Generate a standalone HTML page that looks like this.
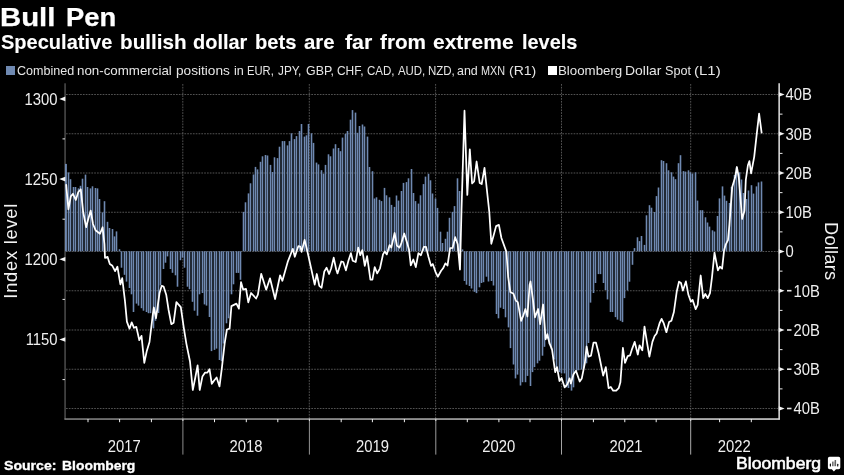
<!DOCTYPE html>
<html><head><meta charset="utf-8"><title>Bull Pen</title>
<style>
html,body{margin:0;padding:0;background:#000;overflow:hidden;}
html{width:844px;height:475px;}
body{width:844px;height:475px;overflow:hidden;position:relative;font-family:"Liberation Sans",sans-serif;color:#fff;}
.w{position:absolute;white-space:nowrap;line-height:20px;transform-origin:0 0;}
.sq{position:absolute;top:66px;width:8.6px;height:8.5px;}
svg{position:absolute;left:0;top:0;}
.ax{font-family:"Liberation Sans",sans-serif;font-size:16.4px;fill:#efefef;}
.yl{font-family:"Liberation Sans",sans-serif;font-size:18.3px;fill:#f2f2f2;}
#wrap{position:absolute;left:0;top:0;width:844px;height:475px;will-change:transform;overflow:hidden;}
</style></head><body><div id="wrap">
<svg width="844" height="475" viewBox="0 0 844 475">
<g stroke="#6e6e6e" stroke-width="0.75" stroke-dasharray="1.7,1.12" fill="none"><line x1="66" x2="778" y1="94.5" y2="94.5"/><line x1="66" x2="778" y1="133.75" y2="133.75"/><line x1="66" x2="778" y1="173.0" y2="173.0"/><line x1="66" x2="778" y1="212.25" y2="212.25"/><line x1="66" x2="778" y1="251.5" y2="251.5"/><line x1="66" x2="778" y1="290.75" y2="290.75"/><line x1="66" x2="778" y1="330.0" y2="330.0"/><line x1="66" x2="778" y1="369.25" y2="369.25"/><line x1="66" x2="778" y1="408.5" y2="408.5"/><line y1="84" y2="418" x1="182.8" x2="182.8"/><line y1="84" y2="418" x1="309.3" x2="309.3"/><line y1="84" y2="418" x1="435.6" x2="435.6"/><line y1="84" y2="418" x1="561.5" x2="561.5"/><line y1="84" y2="418" x1="690.7" x2="690.7"/></g>
<line x1="65.05" x2="65.05" y1="83.3" y2="419.5" stroke="#747474" stroke-width="1"/>
<g fill="#6f89b1" shape-rendering="auto"><rect x="65" y="163.9" width="1.9" height="87.4"/><rect x="67.70" y="172.4" width="1.6" height="78.9"/><rect x="69.70" y="179.2" width="1.6" height="72.1"/><rect x="72.70" y="187.0" width="1.6" height="64.3"/><rect x="74.70" y="187.0" width="1.6" height="64.3"/><rect x="77.70" y="188.4" width="1.6" height="62.9"/><rect x="79.70" y="185.8" width="1.6" height="65.5"/><rect x="81.70" y="178.7" width="1.6" height="72.6"/><rect x="84.70" y="174.6" width="1.6" height="76.7"/><rect x="86.70" y="187.0" width="1.6" height="64.3"/><rect x="89.70" y="188.4" width="1.6" height="62.9"/><rect x="91.70" y="186.3" width="1.6" height="65.0"/><rect x="94.70" y="188.0" width="1.6" height="63.3"/><rect x="96.70" y="188.4" width="1.6" height="62.9"/><rect x="98.70" y="199.0" width="1.6" height="52.3"/><rect x="101.70" y="212.4" width="1.6" height="38.9"/><rect x="103.70" y="201.2" width="1.6" height="50.1"/><rect x="106.70" y="221.8" width="1.6" height="29.5"/><rect x="108.70" y="228.0" width="1.6" height="23.3"/><rect x="111.70" y="229.0" width="1.6" height="22.3"/><rect x="113.70" y="236.4" width="1.6" height="14.9"/><rect x="115.70" y="231.4" width="1.6" height="19.9"/><rect x="118.70" y="249.2" width="1.6" height="2.1"/><rect x="120.70" y="251.3" width="1.6" height="16.4"/><rect x="123.70" y="251.3" width="1.6" height="23.5"/><rect x="125.70" y="251.3" width="1.6" height="30.3"/><rect x="128.70" y="251.3" width="1.6" height="36.7"/><rect x="130.70" y="251.3" width="1.6" height="43.0"/><rect x="132.70" y="251.3" width="1.6" height="60.7"/><rect x="135.70" y="251.3" width="1.6" height="52.3"/><rect x="137.70" y="251.3" width="1.6" height="54.3"/><rect x="140.70" y="251.3" width="1.6" height="56.9"/><rect x="142.70" y="251.3" width="1.6" height="59.4"/><rect x="145.70" y="251.3" width="1.6" height="60.7"/><rect x="147.70" y="251.3" width="1.6" height="61.9"/><rect x="149.70" y="251.3" width="1.6" height="61.9"/><rect x="152.70" y="251.3" width="1.6" height="77.1"/><rect x="154.70" y="251.3" width="1.6" height="69.5"/><rect x="157.70" y="251.3" width="1.6" height="61.7"/><rect x="159.70" y="251.3" width="1.6" height="34.1"/><rect x="162.70" y="251.3" width="1.6" height="17.7"/><rect x="164.70" y="251.3" width="1.6" height="11.4"/><rect x="166.70" y="251.3" width="1.6" height="5.1"/><rect x="169.70" y="251.3" width="1.6" height="17.7"/><rect x="171.70" y="251.3" width="1.6" height="21.5"/><rect x="174.70" y="251.3" width="1.6" height="24.0"/><rect x="176.70" y="251.3" width="1.6" height="35.4"/><rect x="179.70" y="251.3" width="1.6" height="8.9"/><rect x="181.70" y="251.3" width="1.6" height="6.3"/><rect x="183.70" y="251.3" width="1.6" height="16.4"/><rect x="186.70" y="251.3" width="1.6" height="35.4"/><rect x="188.70" y="251.3" width="1.6" height="37.9"/><rect x="191.70" y="251.3" width="1.6" height="50.5"/><rect x="193.70" y="251.3" width="1.6" height="59.4"/><rect x="196.70" y="251.3" width="1.6" height="64.4"/><rect x="198.70" y="251.3" width="1.6" height="43.0"/><rect x="201.70" y="251.3" width="1.6" height="41.7"/><rect x="203.70" y="251.3" width="1.6" height="53.1"/><rect x="205.70" y="251.3" width="1.6" height="54.3"/><rect x="208.70" y="251.3" width="1.6" height="65.7"/><rect x="210.70" y="251.3" width="1.6" height="99.8"/><rect x="213.70" y="251.3" width="1.6" height="98.6"/><rect x="215.70" y="251.3" width="1.6" height="97.3"/><rect x="218.70" y="251.3" width="1.6" height="108.7"/><rect x="220.70" y="251.3" width="1.6" height="109.9"/><rect x="222.70" y="251.3" width="1.6" height="92.2"/><rect x="225.70" y="251.3" width="1.6" height="72.0"/><rect x="227.70" y="251.3" width="1.6" height="67.0"/><rect x="230.70" y="251.3" width="1.6" height="43.0"/><rect x="232.70" y="251.3" width="1.6" height="33.0"/><rect x="235.70" y="251.3" width="1.6" height="21.6"/><rect x="237.70" y="251.3" width="1.6" height="21.6"/><rect x="239.70" y="251.3" width="1.6" height="28.5"/><rect x="242.70" y="211.9" width="1.6" height="39.4"/><rect x="244.70" y="202.3" width="1.6" height="49.0"/><rect x="247.70" y="193.4" width="1.6" height="57.9"/><rect x="249.70" y="183.3" width="1.6" height="68.0"/><rect x="252.70" y="174.5" width="1.6" height="76.8"/><rect x="254.70" y="166.9" width="1.6" height="84.4"/><rect x="256.70" y="169.4" width="1.6" height="81.9"/><rect x="259.70" y="161.8" width="1.6" height="89.5"/><rect x="261.70" y="156.3" width="1.6" height="95.0"/><rect x="264.70" y="155.0" width="1.6" height="96.3"/><rect x="266.70" y="155.5" width="1.6" height="95.8"/><rect x="269.70" y="164.9" width="1.6" height="86.4"/><rect x="271.70" y="172.0" width="1.6" height="79.3"/><rect x="273.70" y="157.3" width="1.6" height="94.0"/><rect x="276.70" y="158.1" width="1.6" height="93.2"/><rect x="278.70" y="146.7" width="1.6" height="104.6"/><rect x="281.70" y="141.1" width="1.6" height="110.2"/><rect x="283.70" y="141.1" width="1.6" height="110.2"/><rect x="286.70" y="145.4" width="1.6" height="105.9"/><rect x="288.70" y="141.1" width="1.6" height="110.2"/><rect x="290.70" y="133.3" width="1.6" height="118.0"/><rect x="293.70" y="139.1" width="1.6" height="112.2"/><rect x="295.70" y="136.1" width="1.6" height="115.2"/><rect x="298.70" y="131.0" width="1.6" height="120.3"/><rect x="300.70" y="124.0" width="1.6" height="127.3"/><rect x="303.70" y="136.6" width="1.6" height="114.7"/><rect x="305.70" y="135.3" width="1.6" height="116.0"/><rect x="307.70" y="124.0" width="1.6" height="127.3"/><rect x="310.70" y="133.3" width="1.6" height="118.0"/><rect x="312.70" y="142.9" width="1.6" height="108.4"/><rect x="315.70" y="162.6" width="1.6" height="88.7"/><rect x="317.70" y="164.4" width="1.6" height="86.9"/><rect x="320.70" y="170.2" width="1.6" height="81.1"/><rect x="322.70" y="173.7" width="1.6" height="77.6"/><rect x="324.70" y="164.9" width="1.6" height="86.4"/><rect x="327.70" y="154.3" width="1.6" height="97.0"/><rect x="329.70" y="156.3" width="1.6" height="95.0"/><rect x="332.70" y="148.5" width="1.6" height="102.8"/><rect x="334.70" y="144.2" width="1.6" height="107.1"/><rect x="337.70" y="148.0" width="1.6" height="103.3"/><rect x="339.70" y="151.2" width="1.6" height="100.1"/><rect x="341.70" y="137.6" width="1.6" height="113.7"/><rect x="344.70" y="133.8" width="1.6" height="117.5"/><rect x="346.70" y="131.0" width="1.6" height="120.3"/><rect x="349.70" y="119.7" width="1.6" height="131.6"/><rect x="351.70" y="110.1" width="1.6" height="141.2"/><rect x="354.70" y="112.6" width="1.6" height="138.7"/><rect x="356.70" y="132.8" width="1.6" height="118.5"/><rect x="358.70" y="126.0" width="1.6" height="125.3"/><rect x="361.70" y="124.5" width="1.6" height="126.8"/><rect x="363.70" y="126.5" width="1.6" height="124.8"/><rect x="366.70" y="136.6" width="1.6" height="114.7"/><rect x="368.70" y="167.0" width="1.6" height="84.3"/><rect x="371.70" y="171.2" width="1.6" height="80.1"/><rect x="373.70" y="198.5" width="1.6" height="52.8"/><rect x="375.70" y="197.3" width="1.6" height="54.0"/><rect x="378.70" y="199.8" width="1.6" height="51.5"/><rect x="380.70" y="201.1" width="1.6" height="50.2"/><rect x="383.70" y="187.9" width="1.6" height="63.4"/><rect x="385.70" y="195.3" width="1.6" height="56.0"/><rect x="388.70" y="197.3" width="1.6" height="54.0"/><rect x="390.70" y="204.9" width="1.6" height="46.4"/><rect x="393.70" y="206.9" width="1.6" height="44.4"/><rect x="395.70" y="195.5" width="1.6" height="55.8"/><rect x="397.70" y="200.6" width="1.6" height="50.7"/><rect x="400.70" y="191.0" width="1.6" height="60.3"/><rect x="402.70" y="182.9" width="1.6" height="68.4"/><rect x="405.70" y="182.1" width="1.6" height="69.2"/><rect x="407.70" y="178.3" width="1.6" height="73.0"/><rect x="410.70" y="169.0" width="1.6" height="82.3"/><rect x="412.70" y="193.0" width="1.6" height="58.3"/><rect x="414.70" y="201.1" width="1.6" height="50.2"/><rect x="417.70" y="203.6" width="1.6" height="47.7"/><rect x="419.70" y="195.3" width="1.6" height="56.0"/><rect x="422.70" y="184.1" width="1.6" height="67.2"/><rect x="424.70" y="176.6" width="1.6" height="74.7"/><rect x="427.70" y="173.8" width="1.6" height="77.5"/><rect x="429.70" y="180.3" width="1.6" height="71.0"/><rect x="431.70" y="193.5" width="1.6" height="57.8"/><rect x="434.70" y="198.5" width="1.6" height="52.8"/><rect x="436.70" y="207.9" width="1.6" height="43.4"/><rect x="439.70" y="231.7" width="1.6" height="19.6"/><rect x="441.70" y="243.0" width="1.6" height="8.3"/><rect x="444.70" y="238.8" width="1.6" height="12.5"/><rect x="446.70" y="231.7" width="1.6" height="19.6"/><rect x="448.70" y="217.8" width="1.6" height="33.5"/><rect x="451.70" y="211.9" width="1.6" height="39.4"/><rect x="453.70" y="206.1" width="1.6" height="45.2"/><rect x="456.70" y="178.3" width="1.6" height="73.0"/><rect x="458.70" y="191.0" width="1.6" height="60.3"/><rect x="461.70" y="249.4" width="1.6" height="1.9"/><rect x="463.70" y="251.3" width="1.6" height="29.7"/><rect x="465.70" y="251.3" width="1.6" height="33.4"/><rect x="468.70" y="251.3" width="1.6" height="34.7"/><rect x="470.70" y="251.3" width="1.6" height="37.2"/><rect x="473.70" y="251.3" width="1.6" height="40.5"/><rect x="475.70" y="251.3" width="1.6" height="41.8"/><rect x="478.70" y="251.3" width="1.6" height="36.0"/><rect x="480.70" y="251.3" width="1.6" height="31.7"/><rect x="482.70" y="251.3" width="1.6" height="30.9"/><rect x="485.70" y="251.3" width="1.6" height="25.4"/><rect x="487.70" y="251.3" width="1.6" height="30.2"/><rect x="490.70" y="251.3" width="1.6" height="29.7"/><rect x="492.70" y="251.3" width="1.6" height="34.2"/><rect x="495.70" y="251.3" width="1.6" height="62.7"/><rect x="497.70" y="251.3" width="1.6" height="67.0"/><rect x="499.70" y="251.3" width="1.6" height="56.4"/><rect x="502.70" y="251.3" width="1.6" height="57.7"/><rect x="504.70" y="251.3" width="1.6" height="66.0"/><rect x="507.70" y="251.3" width="1.6" height="76.1"/><rect x="509.70" y="251.3" width="1.6" height="96.8"/><rect x="512.70" y="251.3" width="1.6" height="113.2"/><rect x="514.70" y="251.3" width="1.6" height="127.1"/><rect x="516.70" y="251.3" width="1.6" height="123.3"/><rect x="519.70" y="251.3" width="1.6" height="134.2"/><rect x="521.70" y="251.3" width="1.6" height="130.9"/><rect x="524.70" y="251.3" width="1.6" height="130.9"/><rect x="526.70" y="251.3" width="1.6" height="124.6"/><rect x="529.70" y="251.3" width="1.6" height="134.7"/><rect x="531.70" y="251.3" width="1.6" height="120.8"/><rect x="533.70" y="251.3" width="1.6" height="115.8"/><rect x="536.70" y="251.3" width="1.6" height="112.0"/><rect x="538.70" y="251.3" width="1.6" height="109.4"/><rect x="541.70" y="251.3" width="1.6" height="104.4"/><rect x="543.70" y="251.3" width="1.6" height="95.5"/><rect x="546.70" y="251.3" width="1.6" height="88.0"/><rect x="548.70" y="251.3" width="1.6" height="93.0"/><rect x="550.70" y="251.3" width="1.6" height="98.1"/><rect x="553.70" y="251.3" width="1.6" height="108.2"/><rect x="555.70" y="251.3" width="1.6" height="115.8"/><rect x="558.70" y="251.3" width="1.6" height="120.8"/><rect x="560.70" y="251.3" width="1.6" height="122.1"/><rect x="563.70" y="251.3" width="1.6" height="122.1"/><rect x="565.70" y="251.3" width="1.6" height="136.0"/><rect x="567.70" y="251.3" width="1.6" height="136.7"/><rect x="570.70" y="251.3" width="1.6" height="139.3"/><rect x="572.70" y="251.3" width="1.6" height="136.0"/><rect x="575.70" y="251.3" width="1.6" height="119.5"/><rect x="577.70" y="251.3" width="1.6" height="119.0"/><rect x="580.70" y="251.3" width="1.6" height="118.3"/><rect x="582.70" y="251.3" width="1.6" height="117.0"/><rect x="585.70" y="251.3" width="1.6" height="112.0"/><rect x="587.70" y="251.3" width="1.6" height="91.7"/><rect x="589.70" y="251.3" width="1.6" height="51.3"/><rect x="592.70" y="251.3" width="1.6" height="41.7"/><rect x="594.70" y="251.3" width="1.6" height="31.7"/><rect x="597.70" y="251.3" width="1.6" height="22.8"/><rect x="599.70" y="251.3" width="1.6" height="22.8"/><rect x="602.70" y="251.3" width="1.6" height="31.7"/><rect x="604.70" y="251.3" width="1.6" height="38.7"/><rect x="606.70" y="251.3" width="1.6" height="48.1"/><rect x="609.70" y="251.3" width="1.6" height="60.7"/><rect x="611.70" y="251.3" width="1.6" height="60.7"/><rect x="614.70" y="251.3" width="1.6" height="65.8"/><rect x="616.70" y="251.3" width="1.6" height="68.3"/><rect x="619.70" y="251.3" width="1.6" height="69.5"/><rect x="621.70" y="251.3" width="1.6" height="70.8"/><rect x="623.70" y="251.3" width="1.6" height="46.8"/><rect x="626.70" y="251.3" width="1.6" height="39.2"/><rect x="628.70" y="251.3" width="1.6" height="30.4"/><rect x="631.70" y="251.3" width="1.6" height="13.5"/><rect x="633.70" y="248.1" width="1.6" height="3.2"/><rect x="636.70" y="237.3" width="1.6" height="14.0"/><rect x="638.70" y="241.1" width="1.6" height="10.2"/><rect x="640.70" y="236.0" width="1.6" height="15.3"/><rect x="643.70" y="244.9" width="1.6" height="6.4"/><rect x="645.70" y="215.3" width="1.6" height="36.0"/><rect x="648.70" y="205.2" width="1.6" height="46.1"/><rect x="650.70" y="207.7" width="1.6" height="43.6"/><rect x="653.70" y="212.0" width="1.6" height="39.3"/><rect x="655.70" y="196.1" width="1.6" height="55.2"/><rect x="657.70" y="187.5" width="1.6" height="63.8"/><rect x="660.70" y="160.2" width="1.6" height="91.1"/><rect x="662.70" y="161.0" width="1.6" height="90.3"/><rect x="665.70" y="163.2" width="1.6" height="88.1"/><rect x="667.70" y="170.3" width="1.6" height="81.0"/><rect x="670.70" y="172.3" width="1.6" height="79.0"/><rect x="672.70" y="176.6" width="1.6" height="74.7"/><rect x="674.70" y="179.2" width="1.6" height="72.1"/><rect x="677.70" y="163.2" width="1.6" height="88.1"/><rect x="679.70" y="155.2" width="1.6" height="96.1"/><rect x="682.70" y="171.1" width="1.6" height="80.2"/><rect x="684.70" y="171.6" width="1.6" height="79.7"/><rect x="687.70" y="170.3" width="1.6" height="81.0"/><rect x="689.70" y="172.3" width="1.6" height="79.0"/><rect x="691.70" y="173.6" width="1.6" height="77.7"/><rect x="694.70" y="172.3" width="1.6" height="79.0"/><rect x="696.70" y="200.6" width="1.6" height="50.7"/><rect x="699.70" y="210.2" width="1.6" height="41.1"/><rect x="701.70" y="210.2" width="1.6" height="41.1"/><rect x="704.70" y="217.3" width="1.6" height="34.0"/><rect x="706.70" y="222.5" width="1.6" height="28.8"/><rect x="708.70" y="226.6" width="1.6" height="24.7"/><rect x="711.70" y="230.3" width="1.6" height="21.0"/><rect x="713.70" y="231.5" width="1.6" height="19.8"/><rect x="716.70" y="216.0" width="1.6" height="35.3"/><rect x="718.70" y="198.4" width="1.6" height="52.9"/><rect x="721.70" y="186.4" width="1.6" height="64.9"/><rect x="723.70" y="195.6" width="1.6" height="55.7"/><rect x="725.70" y="200.8" width="1.6" height="50.5"/><rect x="728.70" y="203.0" width="1.6" height="48.3"/><rect x="730.70" y="186.9" width="1.6" height="64.4"/><rect x="733.70" y="175.0" width="1.6" height="76.3"/><rect x="735.70" y="167.5" width="1.6" height="83.8"/><rect x="738.70" y="172.3" width="1.6" height="79.0"/><rect x="740.70" y="179.5" width="1.6" height="71.8"/><rect x="742.70" y="193.0" width="1.6" height="58.3"/><rect x="745.70" y="199.0" width="1.6" height="52.3"/><rect x="747.70" y="190.5" width="1.6" height="60.8"/><rect x="750.70" y="185.2" width="1.6" height="66.1"/><rect x="752.70" y="193.6" width="1.6" height="57.7"/><rect x="755.70" y="186.4" width="1.6" height="64.9"/><rect x="757.70" y="182.4" width="1.6" height="68.9"/><rect x="760.70" y="181.5" width="1.6" height="69.8"/></g>
<polyline points="66.2,184.9 68.4,209.4 70.8,196.4 73.0,193.8 75.8,200.0 78.3,192.0 80.8,189.3 83.1,211.5 86.1,227.2 88.4,218.6 90.7,210.6 93.0,224.0 95.5,230.2 100.0,233.7 102.6,227.2 104.4,244.0 105.0,257.8 107.6,256.9 109.8,264.0 112.4,265.8 115.1,271.1 117.4,266.7 120.4,284.4 122.2,278.2 124.9,300.4 126.9,321.6 129.5,328.7 131.7,322.4 134.0,327.8 136.3,326.9 139.3,340.2 141.5,335.8 144.3,362.8 146.8,350.9 149.5,342.0 152.7,315.3 153.8,307.5 156.0,318.2 159.5,293.3 161.7,285.8 163.6,286.6 166.3,295.1 168.6,310.0 171.3,324.2 173.6,322.8 176.4,302.2 180.8,307.2 183.8,327.8 186.4,343.8 190.0,361.5 192.8,390.0 195.3,377.5 197.6,365.4 199.7,390.0 202.4,376.6 205.1,372.6 207.4,372.6 209.5,369.2 211.8,383.8 214.3,380.2 216.6,377.5 219.5,386.4 222.0,366.9 224.6,343.8 226.9,329.5 229.6,328.7 231.4,306.1 236.4,303.6 238.9,308.6 241.0,282.1 243.2,289.7 246.0,288.9 248.3,302.3 251.1,293.0 256.1,298.5 257.9,294.7 261.2,273.8 266.2,289.7 270.0,278.3 275.1,299.0 280.1,275.3 282.4,280.8 287.7,261.9 292.8,248.8 294.8,256.8 298.3,246.2 300.3,246.7 301.6,251.8 304.6,239.9 307.2,250.5 311.0,267.7 314.7,284.6 316.8,274.0 319.3,285.9 321.6,287.7 324.3,271.5 326.6,267.7 329.1,274.0 331.2,268.2 333.7,257.6 336.2,269.5 337.5,273.4 341.3,261.5 343.3,262.0 345.9,270.3 348.4,260.7 350.9,253.2 352.7,260.7 355.7,262.0 358.2,247.6 360.3,255.2 362.3,250.1 364.8,265.8 367.1,256.2 370.4,279.7 372.4,279.7 374.7,267.1 377.2,273.4 380.0,268.3 383.0,254.4 384.8,251.4 386.8,254.4 389.6,245.1 391.3,247.6 394.6,233.0 396.9,245.6 399.4,247.6 401.4,243.1 404.2,233.5 407.0,242.6 409.0,249.4 410.8,265.3 413.3,259.5 415.8,267.1 418.4,253.2 420.9,255.2 423.9,246.8 426.0,246.8 428.5,257.0 431.0,265.8 432.8,264.0 435.6,272.1 437.8,276.7 441.1,270.8 443.1,268.3 445.4,263.3 447.5,265.5 450.1,248.1 452.6,248.0 455.2,237.2 457.7,244.3 460.0,269.6 461.5,210.0 464.5,110.7 467.3,194.9 469.8,149.4 472.1,183.5 474.1,181.5 476.6,161.5 479.7,183.0 481.7,184.0 484.5,167.8 489.3,212.0 491.3,243.8 493.6,235.5 496.1,226.1 498.9,224.9 501.4,238.0 506.4,251.9 508.2,277.2 510.3,292.0 513.5,293.8 515.8,300.6 517.8,302.1 521.1,320.8 523.4,315.3 525.4,309.0 527.4,316.5 529.6,285.0 530.5,281.5 533.0,300.1 535.0,317.3 538.1,309.0 540.1,324.1 543.1,304.5 545.6,339.3 547.4,334.2 549.4,343.1 552.0,349.4 555.2,372.1 557.0,367.1 559.5,381.0 561.6,377.9 564.6,387.3 567.1,384.7 569.6,378.4 570.9,383.5 573.4,374.6 576.0,370.8 579.7,381.5 581.8,378.4 584.8,363.3 586.6,346.5 588.5,356.6 591.0,355.6 593.5,342.7 596.0,342.7 598.6,353.0 603.2,375.6 605.8,367.2 608.6,388.2 610.8,387.0 613.2,390.7 616.2,390.7 618.7,388.2 620.4,382.3 622.9,347.8 625.0,362.9 627.7,356.2 630.0,355.4 632.2,348.6 634.7,341.9 637.8,354.5 639.5,345.3 642.3,350.3 644.5,326.7 646.5,339.4 649.4,356.7 652.4,341.9 654.6,336.0 656.6,333.5 659.5,323.4 661.6,318.8 663.8,323.4 666.4,332.2 669.1,322.1 671.4,320.8 673.9,312.0 676.7,291.8 679.0,281.7 681.0,283.0 682.9,290.6 685.9,281.4 688.4,294.8 690.9,301.6 692.6,299.9 695.7,309.2 697.7,304.9 700.7,275.5 703.2,298.2 705.3,294.0 707.8,298.2 710.0,293.2 712.0,277.2 714.5,252.7 717.9,270.4 719.9,266.7 722.1,268.7 724.1,250.2 725.8,244.3 728.0,240.1 729.4,224.9 732.2,187.1 735.1,177.6 736.9,167.0 738.8,177.6 740.4,197.5 742.1,218.9 744.5,210.7 745.8,180.0 747.9,165.3 749.4,161.1 751.1,173.3 754.2,156.8 756.9,132.6 759.1,113.7 761.6,132.6" fill="none" stroke="#ffffff" stroke-width="1.75" stroke-linejoin="round" stroke-linecap="round"/>
<line x1="779.15" x2="779.15" y1="83.3" y2="419.6" stroke="#dcdcdc" stroke-width="1.55"/>
<defs><linearGradient id="axg" gradientUnits="userSpaceOnUse" x1="65" y1="0" x2="779" y2="0"><stop offset="0" stop-color="#808080"/><stop offset="1" stop-color="#d8d8d8"/></linearGradient></defs>
<rect x="64.5" y="418.28" width="715.4" height="1.55" fill="url(#axg)"/>
<path d="M65.3,96.60000000000001 L59.3,98.9 L65.3,101.2 Z" fill="#f4f4f4"/><text transform="translate(57.6,104.7) scale(0.905,1)" text-anchor="end" class="ax">1300</text><path d="M65.3,176.79999999999998 L59.3,179.1 L65.3,181.4 Z" fill="#f4f4f4"/><text transform="translate(57.6,184.9) scale(0.905,1)" text-anchor="end" class="ax">1250</text><path d="M65.3,257.0 L59.3,259.3 L65.3,261.6 Z" fill="#f4f4f4"/><text transform="translate(57.6,265.1) scale(0.905,1)" text-anchor="end" class="ax">1200</text><path d="M65.3,337.2 L59.3,339.5 L65.3,341.8 Z" fill="#f4f4f4"/><text transform="translate(57.6,345.3) scale(0.905,1)" text-anchor="end" class="ax">1150</text><line x1="62.5" x2="65" y1="138.9" y2="138.9" stroke="#e8e8e8" stroke-width="1"/><line x1="62.5" x2="65" y1="219.2" y2="219.2" stroke="#e8e8e8" stroke-width="1"/><line x1="62.5" x2="65" y1="299.4" y2="299.4" stroke="#e8e8e8" stroke-width="1"/><line x1="62.5" x2="65" y1="379.6" y2="379.6" stroke="#e8e8e8" stroke-width="1"/>
<path d="M778.8,92.2 L784.6,94.5 L778.8,96.8 Z" fill="#f4f4f4"/><text transform="translate(785.6,100.3) scale(0.905,1)" class="ax">40B</text><path d="M778.8,131.45 L784.6,133.75 L778.8,136.05 Z" fill="#f4f4f4"/><text transform="translate(785.6,139.55) scale(0.905,1)" class="ax">30B</text><path d="M778.8,170.7 L784.6,173.0 L778.8,175.3 Z" fill="#f4f4f4"/><text transform="translate(785.6,178.8) scale(0.905,1)" class="ax">20B</text><path d="M778.8,209.95 L784.6,212.25 L778.8,214.55 Z" fill="#f4f4f4"/><text transform="translate(785.6,218.05) scale(0.905,1)" class="ax">10B</text><path d="M778.8,249.2 L784.6,251.5 L778.8,253.8 Z" fill="#f4f4f4"/><text transform="translate(785.6,257.3) scale(0.905,1)" class="ax">0</text><path d="M778.8,288.45 L784.6,290.75 L778.8,293.05 Z" fill="#f4f4f4"/><rect x="787" y="289.9" width="4.5" height="1.6" fill="#e6e6e6"/><text transform="translate(793.4,296.55) scale(0.905,1)" class="ax">10B</text><path d="M778.8,327.7 L784.6,330.0 L778.8,332.3 Z" fill="#f4f4f4"/><rect x="787" y="329.2" width="4.5" height="1.6" fill="#e6e6e6"/><text transform="translate(793.4,335.8) scale(0.905,1)" class="ax">20B</text><path d="M778.8,366.95 L784.6,369.25 L778.8,371.55 Z" fill="#f4f4f4"/><rect x="787" y="368.4" width="4.5" height="1.6" fill="#e6e6e6"/><text transform="translate(793.4,375.05) scale(0.905,1)" class="ax">30B</text><path d="M778.8,406.2 L784.6,408.5 L778.8,410.8 Z" fill="#f4f4f4"/><rect x="787" y="407.7" width="4.5" height="1.6" fill="#e6e6e6"/><text transform="translate(793.4,414.3) scale(0.905,1)" class="ax">40B</text><line x1="779.5" x2="782.5" y1="114.125" y2="114.125" stroke="#e8e8e8" stroke-width="1"/><line x1="779.5" x2="782.5" y1="153.375" y2="153.375" stroke="#e8e8e8" stroke-width="1"/><line x1="779.5" x2="782.5" y1="192.625" y2="192.625" stroke="#e8e8e8" stroke-width="1"/><line x1="779.5" x2="782.5" y1="231.875" y2="231.875" stroke="#e8e8e8" stroke-width="1"/><line x1="779.5" x2="782.5" y1="271.125" y2="271.125" stroke="#e8e8e8" stroke-width="1"/><line x1="779.5" x2="782.5" y1="310.375" y2="310.375" stroke="#e8e8e8" stroke-width="1"/><line x1="779.5" x2="782.5" y1="349.625" y2="349.625" stroke="#e8e8e8" stroke-width="1"/><line x1="779.5" x2="782.5" y1="388.875" y2="388.875" stroke="#e8e8e8" stroke-width="1"/>
<line x1="182.9" x2="182.9" y1="419" y2="454.6" stroke="#8c8c8c" stroke-width="1"/><line x1="182.9" x2="182.9" y1="418.6" y2="421" stroke="#ddd" stroke-width="1"/><line x1="309.4" x2="309.4" y1="419" y2="454.6" stroke="#949494" stroke-width="1"/><line x1="309.4" x2="309.4" y1="418.6" y2="421" stroke="#ddd" stroke-width="1"/><line x1="435.8" x2="435.8" y1="419" y2="454.6" stroke="#9c9c9c" stroke-width="1"/><line x1="435.8" x2="435.8" y1="418.6" y2="421" stroke="#ddd" stroke-width="1"/><line x1="561.5" x2="561.5" y1="419" y2="454.6" stroke="#a4a4a4" stroke-width="1"/><line x1="561.5" x2="561.5" y1="418.6" y2="421" stroke="#ddd" stroke-width="1"/><line x1="690.7" x2="690.7" y1="419" y2="454.6" stroke="#acacac" stroke-width="1"/><line x1="690.7" x2="690.7" y1="418.6" y2="421" stroke="#ddd" stroke-width="1"/><line x1="88.0" x2="88.0" y1="419" y2="422.2" stroke="#f0f0f0" stroke-width="1"/><line x1="119.6" x2="119.6" y1="419" y2="422.2" stroke="#f0f0f0" stroke-width="1"/><line x1="151.4" x2="151.4" y1="419" y2="422.2" stroke="#f0f0f0" stroke-width="1"/><line x1="214.5" x2="214.5" y1="419" y2="422.2" stroke="#f0f0f0" stroke-width="1"/><line x1="246.3" x2="246.3" y1="419" y2="422.2" stroke="#f0f0f0" stroke-width="1"/><line x1="277.8" x2="277.8" y1="419" y2="422.2" stroke="#f0f0f0" stroke-width="1"/><line x1="341.2" x2="341.2" y1="419" y2="422.2" stroke="#f0f0f0" stroke-width="1"/><line x1="372.4" x2="372.4" y1="419" y2="422.2" stroke="#f0f0f0" stroke-width="1"/><line x1="404.4" x2="404.4" y1="419" y2="422.2" stroke="#f0f0f0" stroke-width="1"/><line x1="467.3" x2="467.3" y1="419" y2="422.2" stroke="#f0f0f0" stroke-width="1"/><line x1="498.9" x2="498.9" y1="419" y2="422.2" stroke="#f0f0f0" stroke-width="1"/><line x1="530.0" x2="530.0" y1="419" y2="422.2" stroke="#f0f0f0" stroke-width="1"/><line x1="593.4" x2="593.4" y1="419" y2="422.2" stroke="#f0f0f0" stroke-width="1"/><line x1="624.8" x2="624.8" y1="419" y2="422.2" stroke="#f0f0f0" stroke-width="1"/><line x1="656.2" x2="656.2" y1="419" y2="422.2" stroke="#f0f0f0" stroke-width="1"/><line x1="719.6" x2="719.6" y1="419" y2="422.2" stroke="#f0f0f0" stroke-width="1"/><line x1="751.3" x2="751.3" y1="419" y2="422.2" stroke="#f0f0f0" stroke-width="1"/>
<text transform="translate(124.3,451.9) scale(0.905,1)" text-anchor="middle" class="ax">2017</text><text transform="translate(245.9,451.9) scale(0.905,1)" text-anchor="middle" class="ax">2018</text><text transform="translate(372.4,451.9) scale(0.905,1)" text-anchor="middle" class="ax">2019</text><text transform="translate(498.8,451.9) scale(0.905,1)" text-anchor="middle" class="ax">2020</text><text transform="translate(625.9,451.9) scale(0.905,1)" text-anchor="middle" class="ax">2021</text><text transform="translate(734.3,451.9) scale(0.905,1)" text-anchor="middle" class="ax">2022</text>
<text class="yl" transform="translate(17.4,250.8) rotate(-90)" text-anchor="middle" letter-spacing="0.75">Index level</text>
<text class="yl" transform="translate(825,251.2) rotate(90)" text-anchor="middle" letter-spacing="0.2">Dollars</text>
<g transform="translate(827.9,456.8)">
<path d="M1.7,0 H10.7 Q12.4,0 12.4,1.7 V10.7 Q12.4,12.4 10.7,12.4 H8.1 L6,14.6 L3.9,12.4 H1.7 Q0,12.4 0,10.7 V1.7 Q0,0 1.7,0 Z" fill="#fff"/>
<rect x="1.9" y="6.7" width="1.2" height="2.9" rx="0.5" fill="#111"/>
<rect x="4.2" y="4.8" width="1.5" height="4.6" fill="#666"/>
<rect x="5.7" y="4.8" width="1.0" height="4.6" fill="#aaa"/>
<rect x="6.7" y="3.2" width="1.5" height="6.2" fill="#666"/>
<rect x="9.2" y="6.9" width="1.2" height="2.7" rx="0.5" fill="#111"/>
</g>
</svg>
<span class="w" style="left:0.29px;top:7.0px;font-size:25.2px;font-weight:bold;color:#fff;transform:scaleX(1.1639);-webkit-text-stroke:0.25px #fff;">Bull</span><span class="w" style="left:65.82px;top:7.0px;font-size:25.2px;font-weight:bold;color:#fff;transform:scaleX(1.0872);-webkit-text-stroke:0.25px #fff;">Pen</span>
<span class="w" style="left:1.30px;top:31.6px;font-size:20.5px;font-weight:bold;color:#fff;transform:scaleX(0.9770);-webkit-text-stroke:0.1px #fff;">Speculative</span><span class="w" style="left:119.56px;top:31.6px;font-size:20.5px;font-weight:bold;color:#fff;transform:scaleX(1.0083);-webkit-text-stroke:0.1px #fff;">bullish</span><span class="w" style="left:192.90px;top:31.6px;font-size:20.5px;font-weight:bold;color:#fff;transform:scaleX(0.9743);-webkit-text-stroke:0.1px #fff;">dollar</span><span class="w" style="left:255.39px;top:31.6px;font-size:20.5px;font-weight:bold;color:#fff;transform:scaleX(0.9831);-webkit-text-stroke:0.1px #fff;">bets</span><span class="w" style="left:304.39px;top:31.6px;font-size:20.5px;font-weight:bold;color:#fff;transform:scaleX(0.9956);-webkit-text-stroke:0.1px #fff;">are</span><span class="w" style="left:344.78px;top:31.6px;font-size:20.5px;font-weight:bold;color:#fff;transform:scaleX(1.0427);-webkit-text-stroke:0.1px #fff;">far</span><span class="w" style="left:380.29px;top:31.6px;font-size:20.5px;font-weight:bold;color:#fff;transform:scaleX(1.0106);-webkit-text-stroke:0.1px #fff;">from</span><span class="w" style="left:433.26px;top:31.6px;font-size:20.5px;font-weight:bold;color:#fff;transform:scaleX(1.0248);-webkit-text-stroke:0.1px #fff;">extreme</span><span class="w" style="left:521.50px;top:31.6px;font-size:20.5px;font-weight:bold;color:#fff;transform:scaleX(0.9723);-webkit-text-stroke:0.1px #fff;">levels</span>
<div class="sq" style="left:6.2px;background:#6f89b1;"></div>
<span class="w" style="left:17.17px;top:61.2px;font-size:13.1px;font-weight:normal;color:#e6e6e6;transform:scaleX(0.9579);">Combined</span><span class="w" style="left:77.33px;top:61.2px;font-size:13.1px;font-weight:normal;color:#e6e6e6;transform:scaleX(1.0173);">non-commercial</span><span class="w" style="left:175.88px;top:61.2px;font-size:13.1px;font-weight:normal;color:#e6e6e6;transform:scaleX(1.0424);">positions</span><span class="w" style="left:233.78px;top:61.2px;font-size:13.1px;font-weight:normal;color:#e6e6e6;transform:scaleX(0.9598);">in</span><span class="w" style="left:247.20px;top:61.2px;font-size:13.1px;font-weight:normal;color:#e6e6e6;transform:scaleX(0.8557);">EUR,</span><span class="w" style="left:277.82px;top:61.2px;font-size:13.1px;font-weight:normal;color:#e6e6e6;transform:scaleX(0.9014);">JPY,</span><span class="w" style="left:306.48px;top:61.2px;font-size:13.1px;font-weight:normal;color:#e6e6e6;transform:scaleX(0.9457);">GBP,</span><span class="w" style="left:337.40px;top:61.2px;font-size:13.1px;font-weight:normal;color:#e6e6e6;transform:scaleX(0.9119);">CHF,</span><span class="w" style="left:366.52px;top:61.2px;font-size:13.1px;font-weight:normal;color:#e6e6e6;transform:scaleX(0.8816);">CAD,</span><span class="w" style="left:397.70px;top:61.2px;font-size:13.1px;font-weight:normal;color:#e6e6e6;transform:scaleX(0.8724);">AUD,</span><span class="w" style="left:427.68px;top:61.2px;font-size:13.1px;font-weight:normal;color:#e6e6e6;transform:scaleX(0.8779);">NZD,</span><span class="w" style="left:456.60px;top:61.2px;font-size:13.1px;font-weight:normal;color:#e6e6e6;transform:scaleX(0.9498);">and</span><span class="w" style="left:481.13px;top:61.2px;font-size:13.1px;font-weight:normal;color:#e6e6e6;transform:scaleX(0.8281);">MXN</span><span class="w" style="left:508.86px;top:61.2px;font-size:13.1px;font-weight:normal;color:#e6e6e6;transform:scaleX(1.0700);">(R1)</span>
<div class="sq" style="left:548.2px;background:#fff;"></div>
<span class="w" style="left:558.34px;top:61.2px;font-size:13.1px;font-weight:normal;color:#e6e6e6;transform:scaleX(1.0146);">Bloomberg</span><span class="w" style="left:624.69px;top:61.2px;font-size:13.1px;font-weight:normal;color:#e6e6e6;transform:scaleX(1.0638);">Dollar</span><span class="w" style="left:664.53px;top:61.2px;font-size:13.1px;font-weight:normal;color:#e6e6e6;transform:scaleX(0.9650);">Spot</span><span class="w" style="left:694.30px;top:61.2px;font-size:13.1px;font-weight:normal;color:#e6e6e6;transform:scaleX(1.1448);">(L1)</span>
<span class="w" style="left:3.85px;top:456.0px;font-size:11.9px;font-weight:bold;color:#fff;transform:scaleX(1.1841);-webkit-text-stroke:0.3px #fff;">Source:</span><span class="w" style="left:61.70px;top:456.0px;font-size:11.9px;font-weight:bold;color:#fff;transform:scaleX(1.1690);-webkit-text-stroke:0.3px #fff;">Bloomberg</span>
<span class="w" style="left:735.99px;top:453.5px;font-size:15.8px;font-weight:normal;color:#fff;transform:scaleX(1.1135);-webkit-text-stroke:0.55px #fff;">Bloomberg</span>
</div></body></html>
